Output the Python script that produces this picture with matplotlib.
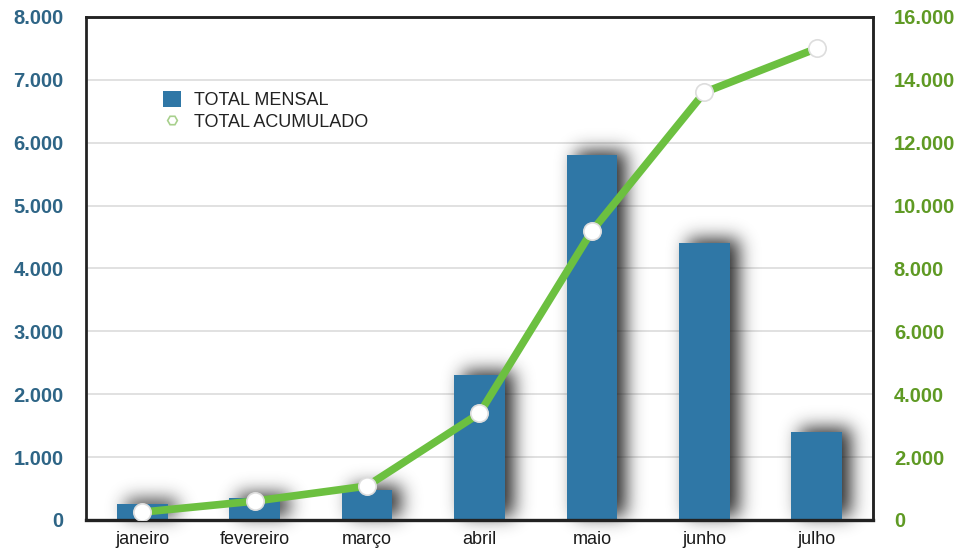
import numpy as np
import matplotlib
matplotlib.use("Agg")
import matplotlib.pyplot as plt
from matplotlib.ticker import FuncFormatter, MultipleLocator
from matplotlib.lines import Line2D
from matplotlib.patches import Patch

plt.rcParams['font.family'] = ['Liberation Sans', 'DejaVu Sans']

# data
meses = ["janeiro", "fevereiro", "março", "abril", "maio", "junho", "julho"]
total_mensal = [250, 350, 480, 2310, 5800, 4410, 1400]
total_acumulado = [250, 600, 1080, 3390, 9190, 13600, 15000]

bar_color = "#2f77a6"
line_color = "#6cc040"
left_color = "#2e6586"
right_color = "#5f9a24"


def thousands(v, pos):
    return f"{int(v):,}".replace(",", ".")


class ShadowFilter:
    # blurred dark copy of the artist, shifted a bit to the right
    def __init__(self, sigma=9.0, dx=9, dy=4, alpha=0.95):
        self.sigma = sigma
        self.dx = dx
        self.dy = dy
        self.alpha = alpha

    def __call__(self, im, dpi):
        r = int(self.sigma * 3)
        pad = r + 14
        a = np.pad(im, [(pad, pad), (pad, pad), (0, 0)], "constant")
        x = np.arange(-r, r + 1)
        k = np.exp(-x ** 2 / (2 * self.sigma ** 2))
        k /= k.sum()
        al = a[:, :, 3]
        al = np.apply_along_axis(lambda row: np.convolve(row, k, mode="same"), 0, al)
        al = np.apply_along_axis(lambda row: np.convolve(row, k, mode="same"), 1, al)
        al = np.roll(al, self.dx, axis=1)
        al = np.roll(al, -self.dy, axis=0)
        out = np.zeros_like(a)
        out[:, :, :3] = 0.12
        out[:, :, 3] = np.clip(al * self.alpha, 0, 1)
        return out, -pad, -pad


fig = plt.figure(figsize=(9.62, 5.54), dpi=100)
ax = fig.add_axes([0.0894, 0.0614, 0.818, 0.908])
x = np.arange(len(meses))

# shadows first, then the bars
shadow = ax.bar(x, total_mensal, width=0.45, color="k", zorder=1)
for p in shadow:
    p.set_agg_filter(ShadowFilter())
    p.set_rasterized(True)
ax.bar(x, total_mensal, width=0.45, color=bar_color, zorder=2)

ax.set_xlim(-0.5, len(meses) - 0.5)
ax.set_ylim(0, 8000)
ax.yaxis.set_major_locator(MultipleLocator(1000))
ax.yaxis.set_major_formatter(FuncFormatter(thousands))
ax.grid(axis="y", color="#dcdcdc", lw=1.2, zorder=0)
ax.set_axisbelow(True)
ax.set_xticks(x)
ax.set_xticklabels(meses, fontsize=13, color="#1a1a1a")
ax.tick_params(axis="x", length=0, pad=8)
ax.tick_params(axis="y", length=0, pad=16, labelsize=14.5, labelcolor=left_color)
for lab in ax.get_yticklabels():
    lab.set_fontweight("bold")

ax2 = ax.twinx()
ax2.plot(x, total_acumulado, color=line_color, lw=5.5, solid_joinstyle="round",
         solid_capstyle="round", marker="o", markersize=12.5,
         markerfacecolor="white", markeredgecolor="#dddddd", markeredgewidth=1.2,
         zorder=5)
ax2.set_ylim(0, 16000)
ax2.yaxis.set_major_locator(MultipleLocator(2000))
ax2.yaxis.set_major_formatter(FuncFormatter(thousands))
ax2.tick_params(axis="y", length=0, pad=15, labelsize=14.5, labelcolor=right_color)
for lab in ax2.get_yticklabels():
    lab.set_fontweight("bold")

for a in (ax, ax2):
    for s in a.spines.values():
        s.set_color("#222222")
        s.set_linewidth(1.8)
ax.spines["left"].set_color("#666666")
ax.spines["bottom"].set_linewidth(2.4)

handles = [
    Patch(facecolor=bar_color, edgecolor="none"),
    Line2D([], [], ls="none", marker="H", markersize=7,
           markerfacecolor="white", markeredgecolor="#a8d08d", markeredgewidth=1.2),
]
ax2.legend(handles, ["TOTAL MENSAL", "TOTAL ACUMULADO"], loc="upper left",
           bbox_to_anchor=(0.077, 0.885), frameon=False, fontsize=13,
           handlelength=1.0, handleheight=1.0, handletextpad=0.75,
           labelspacing=0.2, labelcolor="#222222")

fig.savefig("out.png", dpi=100)
